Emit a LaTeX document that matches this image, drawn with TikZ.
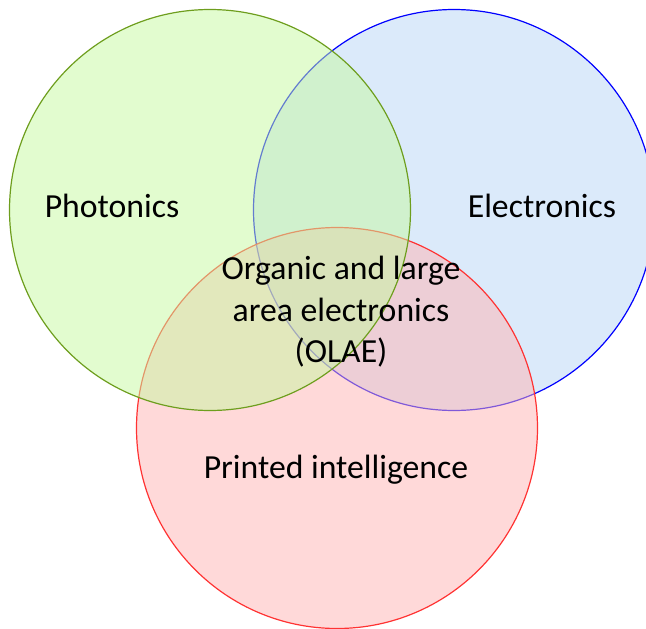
\documentclass[tikz,border=0pt]{standalone}
\usepackage{fontspec}
\setmainfont{Carlito}
\definecolor{grnfill}{HTML}{C6F9A0}
\definecolor{grnline}{HTML}{6E9E1E}
\definecolor{blufill}{HTML}{B8D5F6}
\definecolor{bluline}{HTML}{0000FF}
\definecolor{redfill}{HTML}{FFB3B3}
\definecolor{redline}{HTML}{FF3333}
\begin{document}
\begin{tikzpicture}[x=1pt,y=-1pt,
  setcircle/.style={circle, minimum size=401pt, inner sep=0pt, line width=1.2pt, fill opacity=0.5},
  setlabel/.style={font=\fontsize{33.7}{41.5}\selectfont, text=black, align=center, inner sep=0pt}]
\useasboundingbox (0,0) rectangle (646,629);
\begin{scope}
\clip (0,0) rectangle (646,629);
% sets, drawn bottom to top
\node[setcircle, draw=bluline, fill=blufill] (electronics) at (454,210) {};
\node[setcircle, draw=redline, fill=redfill] (printed) at (337,428) {};
\node[setcircle, draw=grnline, fill=grnfill] (photonics) at (210,210) {};
\end{scope}
% labels
\node[setlabel] (lphot) at (112,206) {Photonics};
\node[setlabel] (lelec) at (542,206) {Electronics};
\node[setlabel] (lolae) at (341,312) {Organic and large\\area electronics\\(OLAE)};
\node[setlabel] (lprint) at (336,470) {Printed intelligence};
\end{tikzpicture}
\end{document}
